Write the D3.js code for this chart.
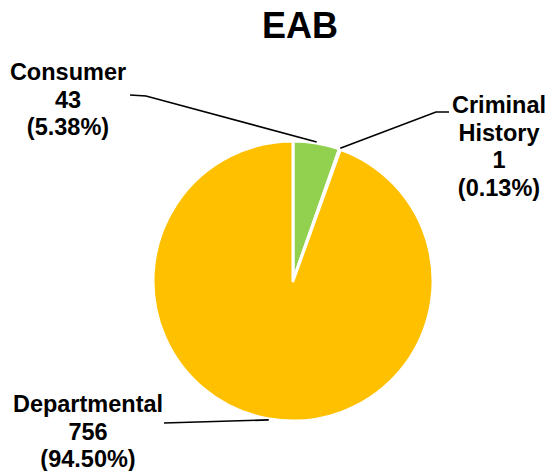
<!DOCTYPE html>
<html>
<head>
<meta charset="utf-8">
<script src="https://cdn.jsdelivr.net/npm/d3@7/dist/d3.min.js"></script>
<style>
  html, body { margin: 0; padding: 0; background: #fff; }
  svg { display: block; font-family: "Liberation Sans", Arial, sans-serif; }
</style>
</head>
<body>
<svg id="chart" width="550" height="471"></svg>
<script>
const title = "EAB";
const categories = ["Consumer", "Criminal History", "Departmental"];
const values = [43, 1, 756];
const percentLabels = ["5.38%", "0.13%", "94.50%"];
const labelLines = [["Consumer"], ["Criminal", "History"], ["Departmental"]];
const colors = ["#92D050", "#5B9BD5", "#FFC000"];

const svg = d3.select("#chart");
const cx = 293, cy = 281, r = 140;

svg.append("text")
  .attr("x", 300).attr("y", 38)
  .attr("text-anchor", "middle")
  .attr("font-size", 36).attr("font-weight", "bold")
  .attr("fill", "#000")
  .text(title);

const pie = d3.pie().sort(null).value(d => d.value);
const arcs = pie(categories.map((c, i) => ({ name: c, value: values[i], i })));
const arc = d3.arc().innerRadius(0).outerRadius(r);

const g = svg.append("g").attr("transform", `translate(${cx},${cy})`);
g.selectAll("path").data(arcs).enter().append("path")
  .attr("d", arc)
  .attr("fill", d => colors[d.data.i])
  .attr("stroke", "#fff")
  .attr("stroke-width", 3)
  .attr("stroke-linejoin", "round");

// label layout (positions of text blocks and leader line bends)
const layout = [
  { x: 68, y: 80, pts: [[130, 95], [146, 96]] },
  { x: 499, y: 113, pts: [[449, 112], [436, 112]] },
  { x: 88, y: 412, pts: [[164, 423]] }
];

const lh = 27.5;
arcs.forEach((a, k) => {
  const L = layout[k];
  const mid = (a.startAngle + a.endAngle) / 2;
  const ex = cx + Math.sin(mid) * (r + 1);
  const ey = cy - Math.cos(mid) * (r + 1);
  const pts = L.pts.concat([[ex, ey]]);
  svg.append("path")
    .attr("d", d3.line()(pts))
    .attr("fill", "none")
    .attr("stroke", "#000")
    .attr("stroke-width", 1.6);
  const lines = labelLines[k].concat([String(values[k]), "(" + percentLabels[k] + ")"]);
  const t = svg.append("text")
    .attr("text-anchor", "middle")
    .attr("font-size", 23.5).attr("font-weight", "bold")
    .attr("fill", "#000");
  lines.forEach((s, j) => {
    t.append("tspan").attr("x", L.x).attr("y", L.y + j * lh).text(s);
  });
});
</script>
</body>
</html>
